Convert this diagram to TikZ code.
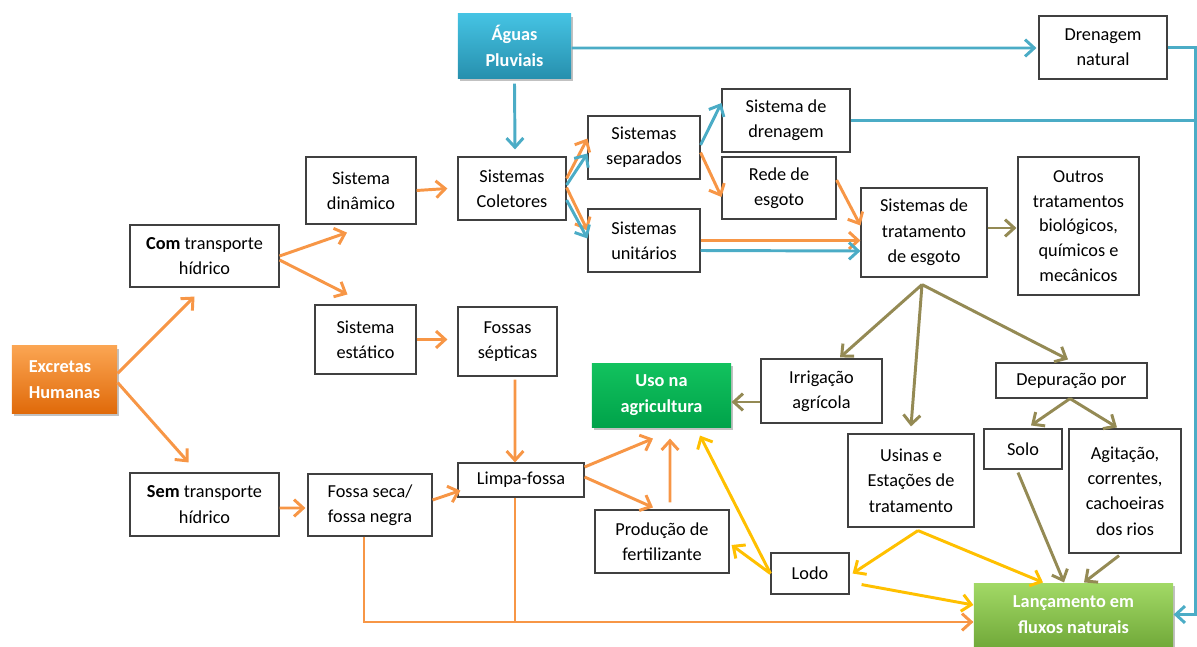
\documentclass[tikz,border=0pt]{standalone}
\usepackage{fontspec}
\setmainfont{Carlito}
\usepackage{tikz}
\usetikzlibrary{arrows.meta,calc,shadows}
\definecolor{orArr}{HTML}{F79646}
\definecolor{blArr}{HTML}{4BACC6}
\definecolor{olArr}{HTML}{948A54}
\definecolor{yeArr}{HTML}{FFC000}
\definecolor{rainTop}{HTML}{45C3E3}
\definecolor{rainBot}{HTML}{2790AE}
\definecolor{excTop}{HTML}{FBA552}
\definecolor{excBot}{HTML}{E06A0A}
\definecolor{useTop}{HTML}{12C25E}
\definecolor{useBot}{HTML}{00A34A}
\definecolor{outTop}{HTML}{A2D966}
\definecolor{outBot}{HTML}{72AA3A}
\tikzset{
  font=\fontsize{13}{18}\selectfont,
  box/.style   ={draw=black!75, fill=white, align=center, inner sep=0pt, line width=0.8pt},
  hot/.style   ={box, draw=none, text=white, font=\fontsize{13}{18}\selectfont\bfseries,
                 drop shadow={shadow xshift=1.5pt, shadow yshift=-2pt, opacity=0.35, fill=black!70}},
  rain/.style  ={hot, top color=rainTop, bottom color=rainBot},
  source/.style={hot, top color=excTop, bottom color=excBot, align=left},
  use/.style   ={hot, top color=useTop, bottom color=useBot},
  outlet/.style={hot, top color=outTop, bottom color=outBot},
  link/.style  ={line width=2.1pt, -{Straight Barb[length=2.3mm,width=4.2mm]}},
  oarr/.style  ={link, draw=orArr},
  barr/.style  ={link, draw=blArr},
  garr/.style  ={link, draw=olArr},
  yarr/.style  ={link, draw=yeArr},
  oline/.style ={line width=2.1pt, draw=orArr},
  bline/.style ={line width=2.1pt, draw=blArr},
}
\begin{document}
\begin{tikzpicture}[x=0.025cm, y=-0.025cm]
  \useasboundingbox (0,0) rectangle (1197,646);

  % sources
  \node[rain,   minimum width=2.825cm, minimum height=1.6cm]   (agua)   at (514.5,46)   {Águas\\Pluviais};
  \node[source, minimum width=2.625cm, minimum height=1.675cm] (excr)   at (64.5,379.5) {Excretas\\Humanas};

  % left branch
  \node[box, minimum width=3.725cm, minimum height=1.55cm]  (com)    at (204.5,256)  {\textbf{Com} transporte\\hídrico};
  \node[box, minimum width=3.725cm, minimum height=1.575cm] (sem)    at (204.5,504.5){\textbf{Sem} transporte\\hídrico};
  \node[box, minimum width=2.75cm,  minimum height=1.675cm] (dinam)  at (361,190.5)  {Sistema\\dinâmico};
  \node[box, minimum width=2.525cm, minimum height=1.725cm] (estat)  at (365.5,339.5){Sistema\\estático};
  \node[box, minimum width=3.1cm,   minimum height=1.55cm]  (seca)   at (370,505)    {Fossa seca/\\fossa negra};
  \node[box, minimum width=2.7cm,   minimum height=1.575cm] (colet)  at (512,188.5)  {Sistemas\\Coletores};
  \node[box, minimum width=2.475cm, minimum height=1.725cm] (fossas) at (507.5,341.5){Fossas\\sépticas};
  \node[box, minimum width=3.15cm,  minimum height=0.85cm]  (limpa)  at (521,480)    {Limpa-fossa};

  % collection
  \node[box, minimum width=2.8cm,  minimum height=1.575cm] (sep)   at (644,147.5)  {Sistemas\\separados};
  \node[box, minimum width=2.8cm,  minimum height=1.575cm] (unit)  at (644,240.5)  {Sistemas\\unitários};
  \node[box, minimum width=3.2cm,  minimum height=1.575cm] (sdren) at (786,120.5)  {Sistema de\\drenagem};
  \node[box, minimum width=2.85cm, minimum height=1.55cm]  (rede)  at (779,188)    {Rede de\\esgoto};
  \node[box, minimum width=3.2cm,  minimum height=1.575cm] (dren)  at (1103,47.5)  {Drenagem\\natural};
  \node[box, minimum width=3.15cm, minimum height=2.225cm] (trat)  at (924,232.5)  {Sistemas de\\tratamento\\de esgoto};
  \node[box, minimum width=3.025cm,minimum height=3.45cm, font=\fontsize{13}{17.5}\selectfont] (outros) at (1078.5,226)
    {Outros\\tratamentos\\biológicos,\\químicos e\\mecânicos};

  % destinations
  \node[use,    minimum width=3.475cm, minimum height=1.6cm]   (uso)    at (661.5,395)  {Uso na\\agricultura};
  \node[box,    minimum width=3.025cm, minimum height=1.6cm]   (irrig)  at (821.5,391)  {Irrigação\\agrícola};
  \node[box,    minimum width=3.35cm,  minimum height=1.575cm] (prod)   at (662,541.5)  {Produção de\\fertilizante};
  \node[box,    minimum width=1.95cm,  minimum height=1.025cm] (lodo)   at (810,573.5)  {Lodo};
  \node[box,    minimum width=3.15cm,  minimum height=2.325cm] (usinas) at (911,480.5)  {Usinas e\\Estações de\\tratamento};
  \node[box,    minimum width=3.775cm, minimum height=0.875cm] (depur)  at (1071.5,380.5){Depuração por};
  \node[box,    minimum width=1.95cm,  minimum height=1.0cm]   (solo)   at (1023,449)   {Solo};
  \node[box,    minimum width=2.8cm,   minimum height=3.1cm]   (agit)   at (1125,491)   {Agitação,\\correntes,\\cachoeiras\\dos rios};
  \node[outlet, minimum width=4.975cm, minimum height=1.575cm] (lanc)   at (1073.5,614.5){Lançamento em\\fluxos naturais};

  \coordinate (rail) at ($(dren.east)+(28,0)$);
  \coordinate (lin)  at ($(lanc.west)+(0,7.5)$);

  % orange
  \draw[oarr] ($(excr.east)+(0,-6)$) -- ($(com.south)+(-10,9)$);
  \draw[oarr] ($(excr.east)+(0,3)$) -- ($(sem.north)+(-16,-10)$);
  \draw[oarr] (com.east) -- ($(dinam.south)+(-14,8)$);
  \draw[oarr] ($(com.east)+(0,4)$) -- ($(estat.north)+(-18,-10)$);
  \draw[oarr] (dinam.east) -- ($(colet.west)+(-10,0)$);
  \draw[oarr] ($(colet.east)+(0,-10)$) -- ($(sep.west)+(0,-9)$);
  \draw[oarr] ($(colet.east)+(0,-1)$) -- ($(unit.west)+(0,-10)$);
  \draw[oarr] ($(sep.east)+(0,5)$) -- ($(rede.west)+(0,9)$);
  \draw[oarr] ($(rede.east)+(0,-8)$) -- ($(trat.west)+(0,-7)$);
  \draw[oarr] (unit.east) -- (unit.east -| trat.west);
  \draw[oarr] (estat.east) -- ($(fossas.west)+(-10,-2)$);
  \draw[oarr] ($(fossas.south)+(7.5,3)$) -- ($(limpa.north)+(-6,0)$);
  \draw[oarr] ($(sem.east)+(0,3.5)$) -- ($(seca.west)+(-2,3)$);
  \draw[oarr] ($(seca.east)+(0,-5)$) -- ($(limpa.south west)+(3,-7)$);
  \draw[oarr] ($(limpa.east)+(0,-13)$) -- ($(uso.south)+(-8.5,11)$);
  \draw[oarr] ($(limpa.east)+(0,-3)$) -- ($(prod.north)+(-9,-2)$);
  \draw[oarr] ($(prod.north)+(8,-7)$) -- ($(uso.south)+(8.5,11)$);
  \draw[oarr] ($(seca.south)+(-6,0)$) |- (lin);
  \draw[oline] ($(limpa.south)+(-6,0)$) |- (lin);

  % blue
  \draw[barr] ($(agua.south)+(0,5)$) -- ($(colet.north)+(3,-7)$);
  \draw[barr] ($(agua.east)+(0,2)$) -- ($(dren.west)+(-2,0.5)$);
  \draw[barr] ($(colet.east)+(0,-3.5)$) -- ($(sep.west)+(0,6)$);
  \draw[barr] ($(colet.east)+(0,11.5)$) -- ($(unit.west)+(0,-2)$);
  \draw[barr] ($(sep.east)+(0,-2.5)$) -- ($(sdren.west)+(0,-17.5)$);
  \draw[barr] ($(unit.east)+(0,10)$) -- ($(trat.west)+(0,18.5)$);
  \draw[barr] (dren.east) -- (rail) |- (lanc.east);
  \draw[bline] (sdren.east) -- (sdren.east -| rail);

  % olive
  \draw[garr] ($(trat.east)+(0,-4.5)$) -- ($(outros.west)+(-1,2)$);
  \draw[garr] ($(trat.south)+(-2,7)$) -- ($(irrig.north)+(18.5,-1)$);
  \draw[garr] ($(trat.south)+(-2,7)$) -- ($(usinas.north)+(0,-7)$);
  \draw[garr] ($(trat.south)+(-2,7)$) -- ($(depur.north)+(-3.5,-3)$);
  \draw[garr] ($(irrig.west)+(0,11)$) -- ($(uso.east)+(0,7)$);
  \draw[garr] ($(depur.south)+(-1.5,0)$) -- ($(solo.north)+(8,-3)$);
  \draw[garr] ($(depur.south)+(-1.5,0)$) -- ($(agit.north)+(-8,-1)$);
  \draw[garr] ($(solo.south)+(-5,3)$) -- ($(lanc.north)+(-9.5,0)$);
  \draw[garr] ($(agit.south)+(-6,2)$) -- ($(lanc.north)+(10.5,0)$);

  % yellow
  \draw[yarr] ($(usinas.south)+(7,3)$) -- ($(lodo.east)+(3,0)$);
  \draw[yarr] ($(usinas.south)+(7,3)$) -- ($(lanc.north)+(-30.5,0)$);
  \draw[yarr] (lodo.west) -- ($(prod.east)+(2,3.5)$);
  \draw[yarr] (lodo.west) -- ($(uso.south)+(38.5,8)$);
  \draw[yarr] ($(lodo.south east)+(12,-10)$) -- ($(lanc.west)+(0,-9.5)$);
\end{tikzpicture}
\end{document}
